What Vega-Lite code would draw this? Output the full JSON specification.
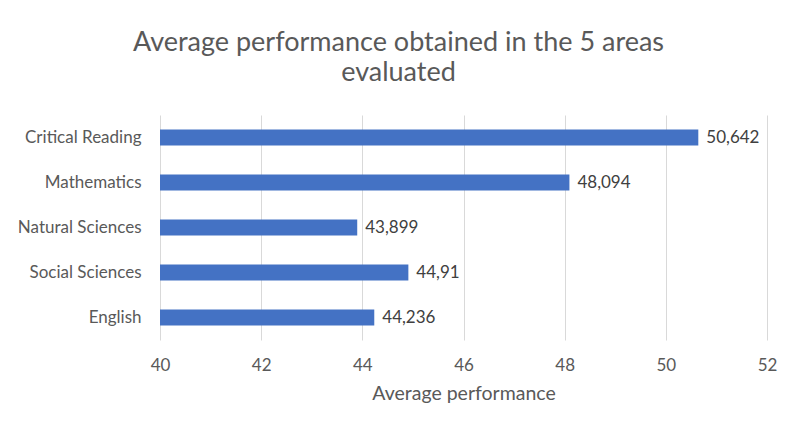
{
  "$schema": "https://vega.github.io/schema/vega-lite/v6.json",
  "autosize": {"type": "none"},
  "width": 607,
  "height": 225,
  "padding": {"left": 160, "top": 115, "right": 33, "bottom": 97},
  "background": "white",
  "title": {
    "text": ["Average performance obtained in the 5 areas", "evaluated"],
    "font": "Lato",
    "fontSize": 27,
    "fontWeight": "normal",
    "color": "#595959",
    "anchor": "middle",
    "dx": -65,
    "offset": 28,
    "lineHeight": 30
  },
  "data": {
    "values": [
      {"area": "Critical Reading", "value": 50.642, "label": "50,642"},
      {"area": "Mathematics", "value": 48.094, "label": "48,094"},
      {"area": "Natural Sciences", "value": 43.899, "label": "43,899"},
      {"area": "Social Sciences", "value": 44.91, "label": "44,91"},
      {"area": "English", "value": 44.236, "label": "44,236"}
    ]
  },
  "encoding": {
    "y": {
      "field": "area",
      "type": "nominal",
      "sort": null,
      "title": null,
      "scale": {"paddingInner": 0.64, "paddingOuter": 0.32},
      "axis": {"ticks": false, "domain": false, "labelFont": "Lato", "labelFontSize": 17, "labelColor": "#595959", "labelPadding": 19}
    },
    "x": {
      "field": "value",
      "type": "quantitative",
      "title": "Average performance",
      "scale": {"domain": [40, 52], "zero": false},
      "axis": {
        "values": [40, 42, 44, 46, 48, 50, 52],
        "ticks": false,
        "domain": false,
        "labelFlush": false,
        "gridColor": "#d9d9d9",
        "labelFont": "Lato",
        "labelFontSize": 17,
        "labelColor": "#595959",
        "labelPadding": 17,
        "titleFont": "Lato",
        "titleFontSize": 19.5,
        "titleFontWeight": "normal",
        "titleColor": "#595959",
        "titlePadding": 11
      }
    }
  },
  "layer": [
    {"mark": {"type": "bar", "color": "#4472c4", "clip": true}},
    {
      "mark": {"type": "text", "align": "left", "baseline": "middle", "dx": 8, "font": "Lato", "fontSize": 17, "color": "#404040"},
      "encoding": {"text": {"field": "label"}}
    }
  ],
  "config": {"view": {"stroke": null}}
}
